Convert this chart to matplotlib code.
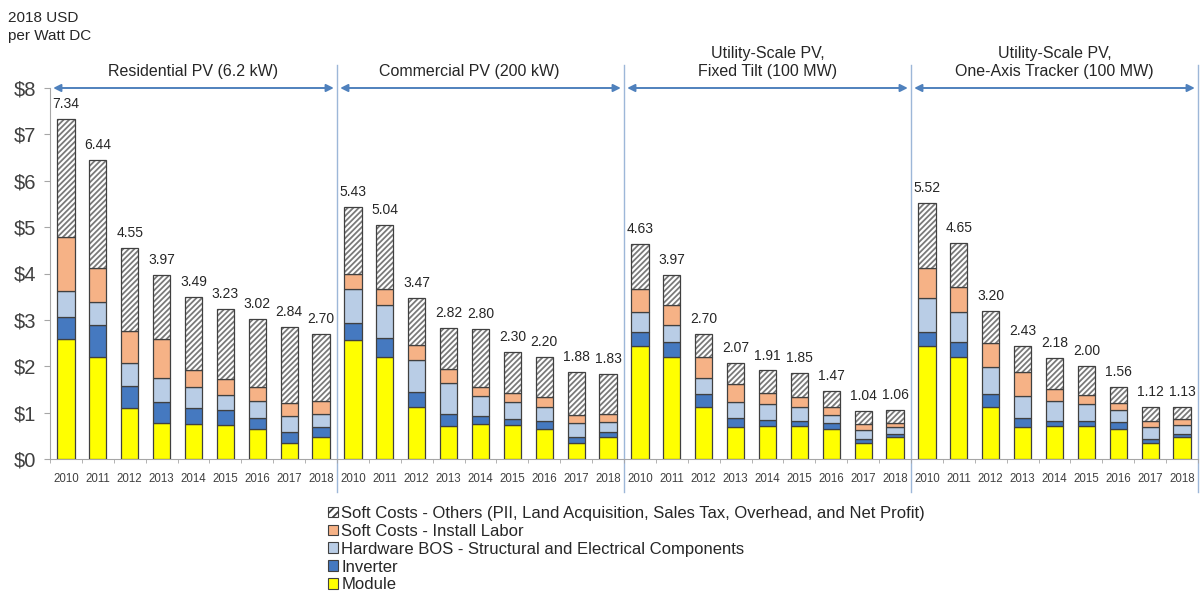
import matplotlib.pyplot as plt
import numpy as np
from matplotlib.patches import Patch

plt.rcParams["font.family"] = ["Liberation Sans", "DejaVu Sans"]
plt.rcParams["hatch.linewidth"] = 1.3

YEARS = ["2010", "2011", "2012", "2013", "2014", "2015", "2016", "2017", "2018"]
SEGMENTS = [
    "Residential PV (6.2 kW)",
    "Commercial PV (200 kW)",
    "Utility-Scale PV,\nFixed Tilt (100 MW)",
    "Utility-Scale PV,\nOne-Axis Tracker (100 MW)",
]

# installed cost per segment and year (2018 USD per W DC)
TOTALS = [7.34, 6.44, 4.55, 3.97, 3.49, 3.23, 3.02, 2.84, 2.70,
          5.43, 5.04, 3.47, 2.82, 2.80, 2.30, 2.20, 1.88, 1.83,
          4.63, 3.97, 2.70, 2.07, 1.91, 1.85, 1.47, 1.04, 1.06,
          5.52, 4.65, 3.20, 2.43, 2.18, 2.00, 1.56, 1.12, 1.13]
MODULE = [2.59, 2.20, 1.11, 0.78, 0.76, 0.73, 0.65, 0.34, 0.47,
          2.56, 2.20, 1.12, 0.71, 0.75, 0.73, 0.64, 0.35, 0.48,
          2.44, 2.19, 1.12, 0.70, 0.71, 0.71, 0.65, 0.34, 0.47,
          2.44, 2.19, 1.12, 0.70, 0.71, 0.71, 0.65, 0.34, 0.47]
INVERTER = [0.47, 0.68, 0.47, 0.44, 0.33, 0.33, 0.24, 0.24, 0.23,
            0.38, 0.40, 0.33, 0.25, 0.18, 0.13, 0.18, 0.12, 0.10,
            0.30, 0.33, 0.28, 0.18, 0.13, 0.12, 0.13, 0.10, 0.06,
            0.30, 0.33, 0.28, 0.18, 0.12, 0.11, 0.14, 0.10, 0.06]
HARDWARE_BOS = [0.57, 0.51, 0.49, 0.53, 0.46, 0.31, 0.35, 0.35, 0.28,
                0.72, 0.73, 0.68, 0.67, 0.42, 0.36, 0.31, 0.30, 0.22,
                0.42, 0.38, 0.34, 0.34, 0.34, 0.29, 0.17, 0.19, 0.15,
                0.74, 0.64, 0.59, 0.47, 0.41, 0.37, 0.27, 0.24, 0.20]
INSTALL_LABOR = [1.15, 0.72, 0.70, 0.84, 0.37, 0.35, 0.31, 0.28, 0.26,
                 0.32, 0.33, 0.32, 0.32, 0.20, 0.20, 0.21, 0.18, 0.17,
                 0.50, 0.42, 0.45, 0.39, 0.25, 0.22, 0.18, 0.12, 0.10,
                 0.63, 0.54, 0.52, 0.52, 0.26, 0.19, 0.14, 0.15, 0.13]

LABELS = [
    "Soft Costs - Others (PII, Land Acquisition, Sales Tax, Overhead, and Net Profit)",
    "Soft Costs - Install Labor",
    "Hardware BOS - Structural and Electrical Components",
    "Inverter",
    "Module",
]

EDGE = "#404040"
HATCH = "#7a7a7a"
TEXT = "#262626"
ARROW = "#4f81bd"
SEP = "#9db7d8"
C_MODULE = "#ffff00"
C_INV = "#4579c0"
C_BOS = "#b9cde6"
C_LABOR = "#f6b286"


def main():
    totals = np.array(TOTALS)
    module = np.array(MODULE)
    inverter = np.array(INVERTER)
    bos = np.array(HARDWARE_BOS)
    labor = np.array(INSTALL_LABOR)
    # soft costs "others" fill the rest of each bar up to the total
    others = totals - (module + inverter + bos + labor)

    n_years = len(YEARS)
    x = np.arange(len(totals))

    fig = plt.figure(figsize=(12.04, 5.92), dpi=100)
    ax = fig.add_axes([50 / 1204, 1 - 459 / 592, 1148 / 1204, 371 / 592])

    w = 0.54
    kw = dict(width=w, edgecolor=EDGE, linewidth=0.9, zorder=3)
    bottom = np.zeros_like(totals)
    ax.bar(x, module, bottom=bottom, color=C_MODULE, **kw)
    bottom += module
    ax.bar(x, inverter, bottom=bottom, color=C_INV, **kw)
    bottom += inverter
    ax.bar(x, bos, bottom=bottom, color=C_BOS, **kw)
    bottom += bos
    ax.bar(x, labor, bottom=bottom, color=C_LABOR, **kw)
    bottom += labor
    # grey hatch first, then a dark outline on top
    ax.bar(x, others, bottom=bottom, width=w, color="white", hatch="//////",
           edgecolor=HATCH, linewidth=0, zorder=3)
    ax.bar(x, others, bottom=bottom, width=w, fill=False, edgecolor=EDGE,
           linewidth=0.9, zorder=3.5)

    for xi, t in zip(x, totals):
        ax.text(xi, t + 0.17, f"{t:.2f}", ha="center", va="bottom",
                fontsize=10, color=TEXT)

    ax.set_xlim(-0.5, len(totals) - 0.5)
    ax.set_ylim(0, 8)
    ax.set_yticks(range(0, 9))
    ax.set_yticklabels([f"${v}" for v in range(0, 9)], fontsize=14.5, color="#404040")
    ax.set_xticks(x)
    ax.set_xticklabels(YEARS * len(SEGMENTS), fontsize=8.3, color="#404040")
    ax.set_xticks(np.arange(-0.5, len(totals)), minor=True)
    ax.tick_params(axis="x", which="major", length=0, pad=10)
    ax.tick_params(axis="x", which="minor", length=3, color="#a6a6a6")
    ax.tick_params(axis="y", length=4, color="#a6a6a6", pad=6)
    for side in ("top", "right"):
        ax.spines[side].set_visible(False)
    for side in ("left", "bottom"):
        ax.spines[side].set_color("#a6a6a6")
        ax.spines[side].set_linewidth(0.8)

    # segment separators, arrows and titles
    title_shift = [0, -0.35, 0, 0]
    for k, name in enumerate(SEGMENTS):
        lo = k * n_years - 0.5
        hi = (k + 1) * n_years - 0.5
        ax.plot([hi, hi], [-0.72, 8.5], color=SEP, lw=1.0, clip_on=False, zorder=1)
        ax.annotate("", xy=(hi - 0.1, 8), xytext=(lo + 0.1, 8),
                    arrowprops=dict(arrowstyle="<|-|>", color=ARROW, lw=1.4,
                                    mutation_scale=11, shrinkA=0, shrinkB=0),
                    annotation_clip=False, zorder=4)
        ax.text((lo + hi) / 2 + title_shift[k], 8.2, name, ha="center", va="bottom",
                fontsize=11.5, color=TEXT, linespacing=1.25)

    fig.text(8 / 1204, 1 - 11 / 592, "2018 USD\nper Watt DC", ha="left", va="top",
             fontsize=11, color=TEXT, linespacing=1.4)

    handles = [
        Patch(facecolor="white", edgecolor=EDGE, hatch="////", lw=0.8),
        Patch(facecolor=C_LABOR, edgecolor=EDGE, lw=0.8),
        Patch(facecolor=C_BOS, edgecolor=EDGE, lw=0.8),
        Patch(facecolor=C_INV, edgecolor=EDGE, lw=0.8),
        Patch(facecolor=C_MODULE, edgecolor=EDGE, lw=0.8),
    ]
    leg = fig.legend(handles, LABELS, loc="upper left",
                     bbox_to_anchor=(328 / 1204, 1 - 506 / 592), frameon=False,
                     fontsize=12, handlelength=0.6, handleheight=0.6,
                     handletextpad=0.2, labelspacing=0.17, borderpad=0,
                     borderaxespad=0)
    for t in leg.get_texts():
        t.set_color(TEXT)

    fig.savefig("out.png", dpi=100)


if __name__ == "__main__":
    main()
